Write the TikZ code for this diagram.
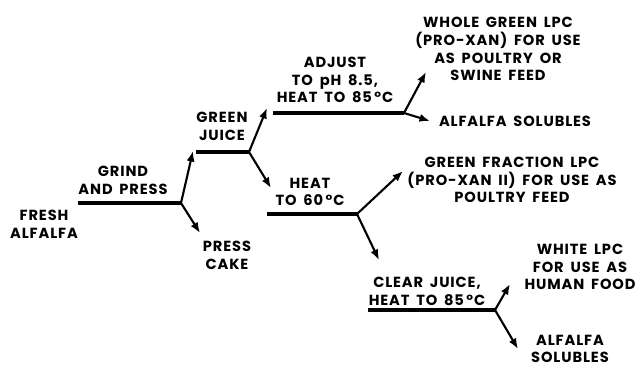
\documentclass[tikz,border=0pt]{standalone}
\usepackage{fontspec}
\setmainfont{Poppins}[LetterSpace=6,WordSpace=1.7]
\usetikzlibrary{arrows.meta}
\begin{document}
\begin{tikzpicture}[x=0.03cm,y=-0.03cm,
  lbl/.style={align=center,inner sep=0pt,font=\fontsize{12.5}{15.2}\selectfont\bfseries},
  stem/.style={line width=3pt},
  branch/.style={line width=1.8pt,-{Latex[length=9pt,width=7pt]}}]
\useasboundingbox (0,0) rectangle (642,367);
% start and branch points
\coordinate (s1) at (78,203);  \coordinate (b1) at (181,203);
\coordinate (s2) at (196,152); \coordinate (b2) at (249,152);
\coordinate (s3) at (273,113); \coordinate (b3) at (404,113);
\coordinate (s4) at (267,214); \coordinate (b4) at (357,214);
\coordinate (s5) at (368,310); \coordinate (b5) at (495,310);
% arrow ends
\coordinate (e1) at (193,151); \coordinate (e2) at (200,233);
\coordinate (e3) at (267,108); \coordinate (e4) at (271,188);
\coordinate (e5) at (426,72);  \coordinate (e6) at (430,121);
\coordinate (e7) at (403,171); \coordinate (e8) at (379,260);
\coordinate (e9) at (510,284); \coordinate (e10) at (518,349);
% labels
\node[lbl] (fresh) at (44,224) {FRESH\\ALFALFA};
\node[lbl] (grind) at (123,180) {GRIND\\AND PRESS};
\node[lbl] (cake) at (227,255) {PRESS\\CAKE};
\node[lbl] (juice) at (222,126) {GREEN\\JUICE};
\node[lbl] (adjust) at (335,80) {ADJUST\\TO pH 8.5,\\HEAT TO 85\,°C};
\node[lbl] (whole) at (498,49) {WHOLE GREEN LPC\\(PRO-XAN) FOR USE\\AS POULTRY OR\\SWINE FEED};
\node[lbl] (sol1) at (515,121) {ALFALFA SOLUBLES};
\node[lbl] (heat) at (310,192) {HEAT\\TO 60\,°C};
\node[lbl] (fract) at (512,180) {GREEN FRACTION LPC\\(PRO-XAN II) FOR USE AS\\POULTRY FEED};
\node[lbl] (clear) at (427,291) {CLEAR JUICE,\\HEAT TO 85\,°C};
\node[lbl] (white) at (580,267) {WHITE LPC\\FOR USE AS\\HUMAN FOOD};
\node[lbl] (sol2) at (570,349) {ALFALFA\\SOLUBLES};
% lines
\draw[stem] (s1) -- (b1);
\draw[branch] (b1) -- (e1);
\draw[branch] (b1) -- (e2);
\draw[stem] (s2) -- (b2);
\draw[branch] (b2) -- (e3);
\draw[branch] (b2) -- (e4);
\draw[stem] (s3) -- (b3);
\draw[branch] (b3) -- (e5);
\draw[branch] (b3) -- (e6);
\draw[stem] (s4) -- (b4);
\draw[branch] (b4) -- (e7);
\draw[branch] (b4) -- (e8);
\draw[stem] (s5) -- (b5);
\draw[branch] (b5) -- (e9);
\draw[branch] (b5) -- (e10);
\end{tikzpicture}
\end{document}
